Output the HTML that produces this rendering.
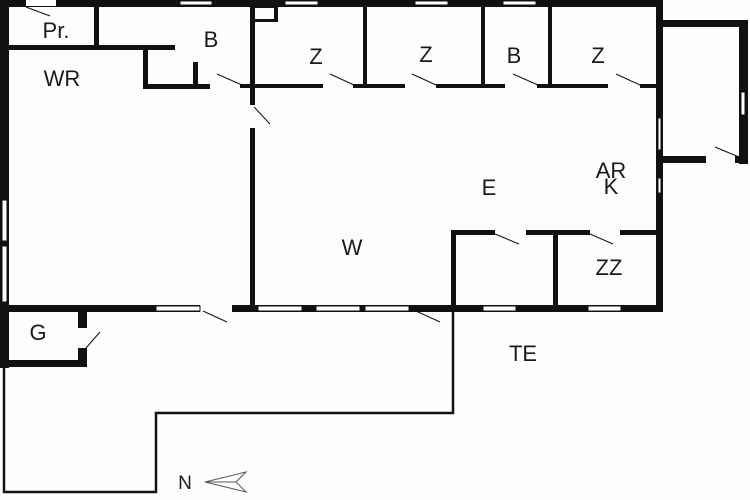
<!DOCTYPE html>
<html><head><style>
html,body{margin:0;padding:0;background:#fff;}
svg{display:block;}
text{font-family:"Liberation Sans",sans-serif;font-size:22px;fill:#1a1a1a;text-anchor:middle;}
</style></head><body>
<svg width="750" height="500" viewBox="0 0 750 500" xmlns="http://www.w3.org/2000/svg">
<rect width="750" height="500" fill="#fdfdfb"/>
<g fill="#111">
<rect x="0" y="0" width="663" height="7"/>
<rect x="0" y="0" width="9" height="368"/>
<rect x="656" y="0" width="7" height="312"/>
<rect x="656" y="20" width="92" height="7"/>
<rect x="739" y="20" width="9" height="144"/>
<rect x="656" y="156" width="50" height="7"/>
<rect x="735" y="156" width="13" height="7"/>
<rect x="94" y="5" width="5" height="42"/>
<rect x="8" y="45" width="167" height="5"/>
<rect x="143" y="47" width="5" height="41"/>
<rect x="143" y="84" width="67" height="5"/>
<rect x="193" y="62" width="5" height="24"/>
<rect x="250" y="5" width="5" height="100"/>
<rect x="250" y="128" width="5" height="182"/>
<rect x="253" y="5" width="25" height="3"/>
<rect x="274" y="5" width="4" height="17"/>
<rect x="253" y="19" width="25" height="3"/>
<rect x="240" y="84" width="83" height="4"/>
<rect x="353" y="84" width="52" height="4"/>
<rect x="436" y="84" width="69" height="4"/>
<rect x="537" y="84" width="71" height="4"/>
<rect x="640" y="84" width="18" height="4"/>
<rect x="363" y="5" width="4" height="81"/>
<rect x="481" y="5" width="4" height="81"/>
<rect x="548" y="5" width="4" height="81"/>
<rect x="451" y="230" width="44" height="5"/>
<rect x="526" y="230" width="64" height="5"/>
<rect x="620" y="230" width="38" height="5"/>
<rect x="451" y="230" width="5" height="80"/>
<rect x="553" y="230" width="5" height="80"/>
<rect x="0" y="305" width="200" height="7"/>
<rect x="232" y="305" width="426" height="7"/>
<rect x="0" y="360" width="87" height="7"/>
<rect x="78" y="310" width="9" height="18"/>
<rect x="78" y="348" width="9" height="18"/>
</g>
<g fill="#fff" stroke="#111" stroke-width="1">
<rect x="26" y="0" width="30" height="6" stroke="none"/>
<rect x="180" y="1" width="32" height="4"/>
<rect x="285" y="1" width="33" height="4"/>
<rect x="415" y="1" width="33" height="4"/>
<rect x="503" y="1" width="33" height="4"/>
<rect x="658" y="118" width="3" height="32"/>
<rect x="658" y="178" width="3" height="15"/>
<rect x="741" y="92" width="4" height="23"/>
<rect x="2" y="200" width="5" height="41"/>
<rect x="2" y="246" width="5" height="56"/>
<rect x="156" y="306" width="44" height="5"/>
<rect x="258" y="306" width="44" height="5"/>
<rect x="316" y="306" width="44" height="5"/>
<rect x="365" y="306" width="44" height="5"/>
<rect x="483" y="306" width="33" height="5"/>
<rect x="588" y="306" width="33" height="5"/>
</g>
<g stroke="#111" stroke-width="1" fill="none">
<line x1="26" y1="7" x2="50" y2="16"/>
<line x1="217" y1="74" x2="242" y2="85"/>
<line x1="330" y1="74" x2="354" y2="85"/>
<line x1="412" y1="74" x2="436" y2="85"/>
<line x1="513" y1="74" x2="538" y2="85"/>
<line x1="616" y1="74" x2="640" y2="85"/>
<line x1="254" y1="107" x2="270" y2="124"/>
<line x1="715" y1="147" x2="739" y2="157"/>
<line x1="495" y1="234" x2="519" y2="244"/>
<line x1="590" y1="234" x2="613" y2="244"/>
<line x1="203" y1="311" x2="227" y2="322"/>
<line x1="416" y1="311" x2="440" y2="322"/>
<line x1="86" y1="348" x2="100" y2="332"/>
</g>
<polyline points="453,310 453,413 156,413 156,492 4,492 4,366" stroke="#111" stroke-width="2.5" fill="none"/>
<polygon points="205,482 246,472 236,482 246,492" fill="#fff" stroke="#555" stroke-width="1"/>
<line x1="205" y1="482" x2="236" y2="482" stroke="#555" stroke-width="1"/>
<text x="56" y="38">Pr.</text>
<text x="62" y="86">WR</text>
<text x="211" y="47">B</text>
<text x="316" y="64">Z</text>
<text x="426" y="62">Z</text>
<text x="514" y="63">B</text>
<text x="598" y="63">Z</text>
<text x="489" y="195">E</text>
<text x="611" y="178">AR</text>
<text x="611" y="194">K</text>
<text x="352" y="255">W</text>
<text x="609" y="275">ZZ</text>
<text x="38" y="340">G</text>
<text x="523" y="361">TE</text>
<text x="185" y="489" style="font-size:19px">N</text>
</svg>
</body></html>
